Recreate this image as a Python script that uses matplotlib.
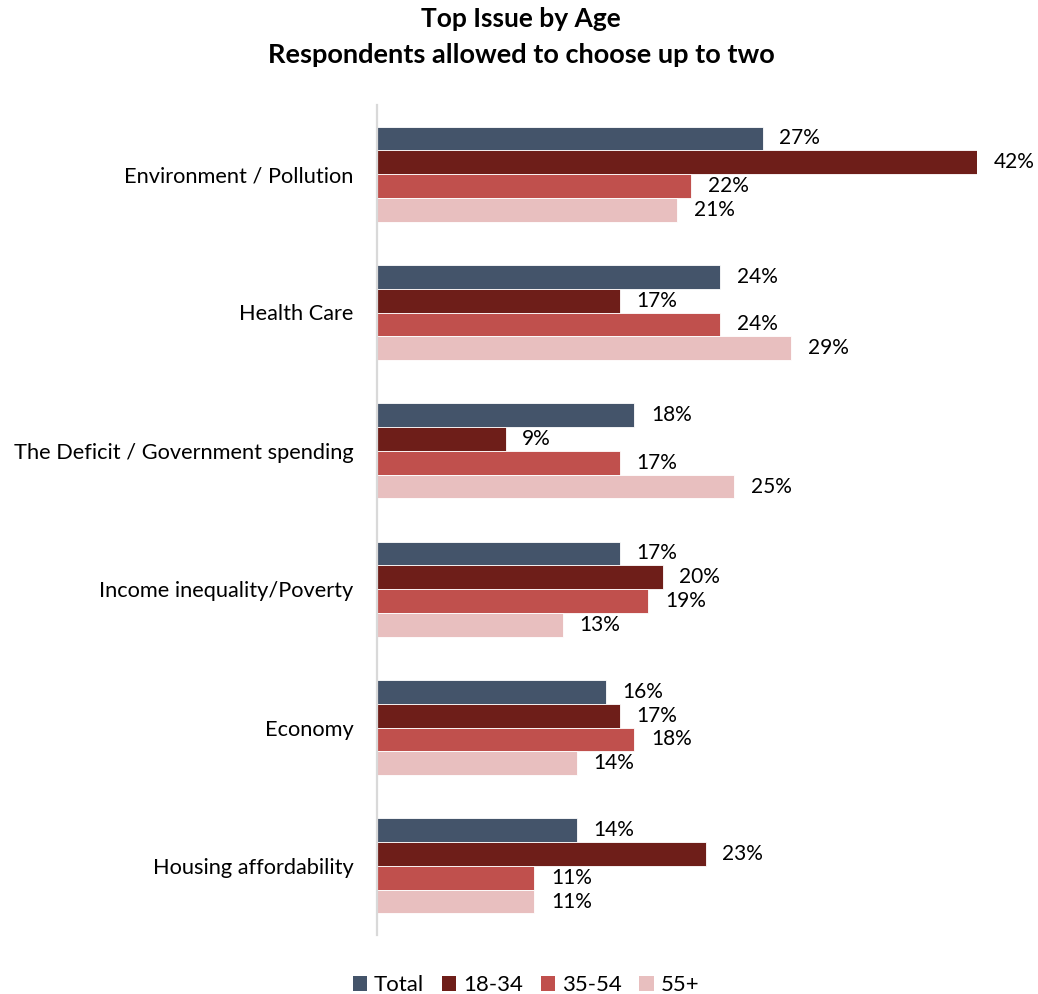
import matplotlib
matplotlib.use("Agg")
import matplotlib.pyplot as plt
from matplotlib.patches import Patch
import numpy as np

categories = [
    "Environment / Pollution",
    "Health Care",
    "The Deficit / Government spending",
    "Income inequality/Poverty",
    "Economy",
    "Housing affordability",
]
series_names = ["Total", "18-34", "35-54", "55+"]
total = [27, 24, 18, 17, 16, 14]
age_18_34 = [42, 17, 9, 20, 17, 23]
age_35_54 = [22, 24, 17, 19, 18, 11]
age_55_plus = [21, 29, 25, 13, 14, 11]
series_values = [total, age_18_34, age_35_54, age_55_plus]
colors = ["#44546A", "#6E1E19", "#C0504D", "#E8BFBF"]

plt.rcParams["font.family"] = ["Lato", "DejaVu Sans"]

W, H = 1038, 994
fig = plt.figure(figsize=(W / 100, H / 100), dpi=100)
ax = fig.add_axes([377 / W, 1 - 935 / H, 600 / W, 830 / H])

y = np.arange(len(categories))
h = 0.172
offsets = np.array([-1.5, -0.5, 0.5, 1.5]) * h

for name, vals, col, off in zip(series_names, series_values, colors, offsets):
    bars = ax.barh(y + off, vals, height=h, color=col, edgecolor="white",
                   linewidth=0.6, label=name)
    for rect, v in zip(bars, vals):
        ax.annotate(f"{v}%", xy=(rect.get_width(), rect.get_y() + rect.get_height() / 2),
                    xytext=(12, 0), textcoords="offset points",
                    ha="left", va="center", fontsize=15, color="#000000",
                    annotation_clip=False)

ax.set_xlim(0, 42)
ax.set_ylim(len(categories) - 0.5, -0.5)
ax.set_yticks(y)
ax.set_yticklabels(categories, fontsize=15.7)
ax.tick_params(axis="y", length=0, pad=17)
ax.set_xticks([])
for s in ["top", "right", "bottom"]:
    ax.spines[s].set_visible(False)
ax.spines["left"].set_color("#D9D9D9")
ax.spines["left"].set_linewidth(1.6)

fig.text(521 / W, 1 - 19 / H, "Top Issue by Age", ha="center", va="center",
         fontsize=19, fontweight="bold")
fig.text(521 / W, 1 - 55 / H, "Respondents allowed to choose up to two",
         ha="center", va="center", fontsize=19.5, fontweight="bold")

handles = [Patch(facecolor=c, edgecolor="none") for c in colors]
fig.legend(handles, series_names, loc="center", bbox_to_anchor=(526 / W, 1 - 985 / H),
           ncol=4, frameon=False, fontsize=16, handlelength=0.65, handleheight=0.65,
           handletextpad=0.3, columnspacing=0.8)

fig.savefig("out.png", dpi=100)
